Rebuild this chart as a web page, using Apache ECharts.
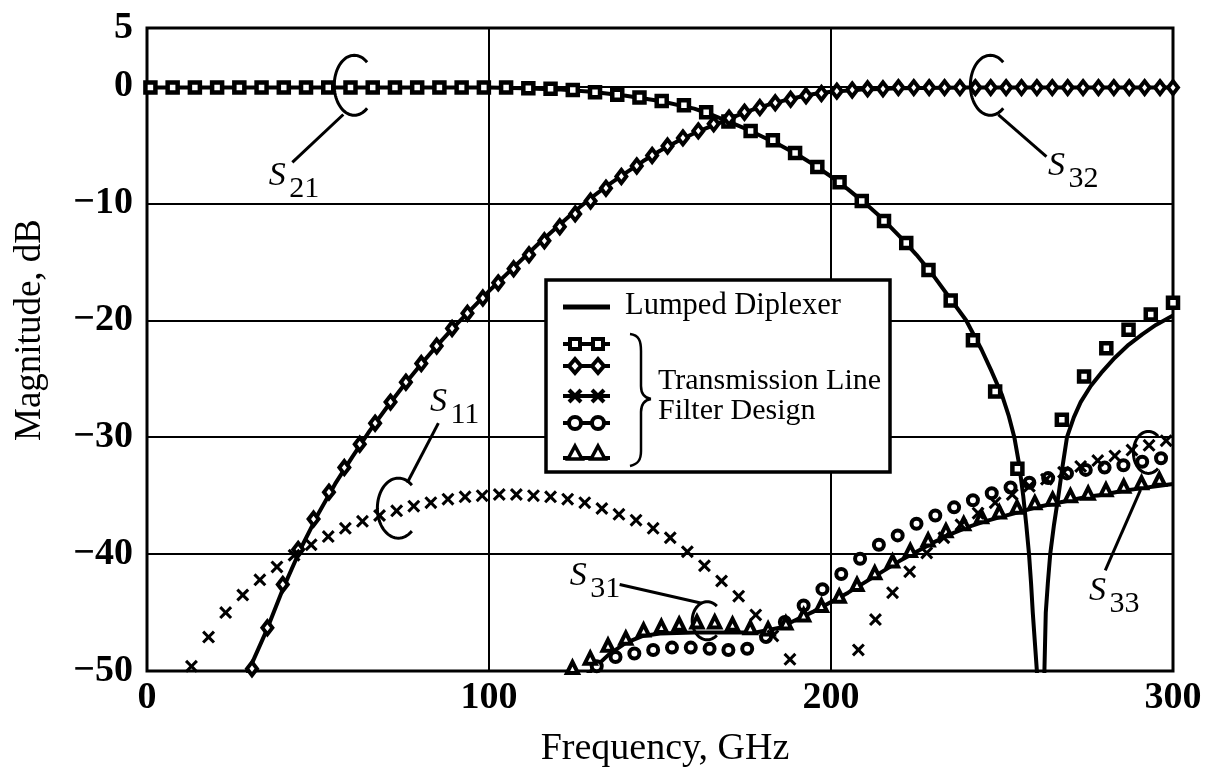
<!DOCTYPE html>
<html>
<head>
<meta charset="utf-8">
<script src="https://cdn.jsdelivr.net/npm/echarts@6.0.0/dist/echarts.min.js"></script>
<style>
  html, body { margin: 0; padding: 0; background: #fff; }
  #chart { width: 1207px; height: 769px; }
</style>
</head>
<body>
<div id="chart"></div>
<script>
// Axis ranges and tick step
const xRange = [0, 300];
const yRange = [-50, 5];
const xStep = 100;
const yStep = 10;

// Lumped diplexer responses (solid lines), [GHz, dB]
const s21Lumped = [
  [0, -0.1], [50, -0.1], [100, -0.1], [110, -0.15], [120, -0.25], [130, -0.45], [140, -0.8],
  [150, -1.25], [160, -1.9], [165, -2.4], [170, -3.0], [175, -3.6], [180, -4.3], [185, -5.0],
  [190, -5.8], [195, -6.7], [200, -7.7], [205, -8.8], [210, -10.0], [215, -11.3], [220, -12.8],
  [225, -14.4], [230, -16.2], [235, -18.2], [239.5, -20.0], [244, -22.5], [247, -24.4],
  [250, -26.4], [252, -28.2], [253.6, -30], [255, -32.3], [256.2, -35], [257.1, -37.5],
  [257.9, -40], [258.5, -42.5], [259, -45], [259.6, -47.5], [260.2, -50], [261.3, -65],
  [262.4, -50], [262.8, -45], [263.4, -42.5], [264.1, -40], [265.2, -37.5], [266.5, -35],
  [267.7, -32.5], [269, -30], [271, -28.3], [273, -27.0], [276, -25.6], [279, -24.5],
  [283, -23.2], [287, -22.1], [291, -21.2], [295, -20.4], [300, -19.6]
];
const s32Lumped = [
  [26, -53], [30, -49.8], [35, -46.5], [40, -42.8], [45, -39.5], [50, -36.6], [55, -34.0],
  [60, -31.7], [65, -29.5], [70, -27.5], [75, -25.6], [80, -23.8], [85, -22.1], [90, -20.5],
  [95, -19.0], [100, -17.5], [105, -16.1], [110, -14.7], [115, -13.3], [120, -12.0],
  [125, -10.7], [130, -9.5], [135, -8.4], [140, -7.4], [145, -6.4], [150, -5.5], [155, -4.7],
  [160, -4.0], [165, -3.4], [170, -2.8], [175, -2.2], [180, -1.7], [185, -1.3], [190, -0.95],
  [195, -0.65], [200, -0.45], [210, -0.25], [220, -0.15], [240, -0.1], [300, -0.1]
];
const s31Lumped = [
  [128, -50.5], [135, -48.6], [140, -47.6], [145, -47.0], [150, -46.8], [160, -46.7],
  [170, -46.7], [178, -46.7], [185, -46.3], [190, -45.6], [195, -44.9], [200, -44.1],
  [205, -43.3], [210, -42.4], [215, -41.5], [220, -40.6], [225, -39.8], [230, -39.0],
  [235, -38.3], [240, -37.7], [245, -37.2], [250, -36.8], [255, -36.4], [260, -36.0],
  [265, -35.7], [270, -35.4], [275, -35.1], [280, -34.9], [285, -34.6], [290, -34.4],
  [295, -34.2], [300, -34.0]
];

// Transmission line filter design (markers), [GHz, dB]
const s21Squares = [
  [1, -0.1], [7.5, -0.1], [14, -0.1], [20.5, -0.1], [27, -0.1], [33.5, -0.1], [40, -0.1],
  [46.5, -0.1], [53, -0.1], [59.5, -0.1], [66, -0.1], [72.5, -0.1], [79, -0.1], [85.5, -0.1],
  [92, -0.1], [98.5, -0.1], [105, -0.1], [111.5, -0.15], [118, -0.2], [124.5, -0.3],
  [131, -0.5], [137.5, -0.7], [144, -0.95], [150.5, -1.25], [157, -1.6], [163.5, -2.2],
  [170, -3.0], [176.5, -3.8], [183, -4.6], [189.5, -5.7], [196, -6.9], [202.5, -8.2],
  [209, -9.8], [215.5, -11.5], [222, -13.4], [228.5, -15.7], [235, -18.3], [241.5, -21.7],
  [248, -26.1], [254.5, -32.7], [261, -58], [267.5, -28.5], [274, -24.8], [280.5, -22.4],
  [287, -20.8], [293.5, -19.5], [300, -18.5]
];
const s32Diamonds = [
  [26.2, -53.5], [30.7, -49.8], [35.2, -46.3], [39.7, -42.6], [44.2, -39.6], [48.7, -37.0],
  [53.2, -34.7], [57.7, -32.6], [62.2, -30.6], [66.7, -28.8], [71.2, -27.0], [75.7, -25.3],
  [80.2, -23.7], [84.7, -22.2], [89.2, -20.7], [93.7, -19.4], [98.2, -18.1], [102.7, -16.8],
  [107.2, -15.6], [111.7, -14.4], [116.2, -13.2], [120.7, -12.0], [125.2, -10.9], [129.7, -9.8],
  [134.2, -8.7], [138.7, -7.7], [143.2, -6.8], [147.7, -5.9], [152.2, -5.1], [156.7, -4.4],
  [161.2, -3.8], [165.7, -3.2], [170.2, -2.7], [174.7, -2.2], [179.2, -1.8], [183.7, -1.4],
  [188.2, -1.1], [192.7, -0.8], [197.2, -0.6], [201.7, -0.4], [206.2, -0.3], [210.7, -0.2],
  [215.2, -0.2], [219.7, -0.1], [224.2, -0.1], [228.7, -0.1], [233.2, -0.1], [237.7, -0.1],
  [242.2, -0.1], [246.7, -0.1], [251.2, -0.1], [255.7, -0.1], [260.2, -0.1], [264.7, -0.1],
  [269.2, -0.1], [273.7, -0.1], [278.2, -0.1], [282.7, -0.1], [287.2, -0.1], [291.7, -0.1],
  [296.2, -0.1], [300, -0.1]
];
const s11Crosses = [
  [13, -49.6], [18, -47.1], [23, -45.0], [28, -43.5], [33, -42.2], [38, -41.1], [43, -40.1],
  [48, -39.2], [53, -38.5], [58, -37.8], [63, -37.2], [68, -36.7], [73, -36.3], [78, -35.9],
  [83, -35.6], [88, -35.3], [93, -35.1], [98, -35.0], [103, -34.9], [108, -34.9], [113, -35.0],
  [118, -35.1], [123, -35.3], [128, -35.6], [133, -36.1], [138, -36.6], [143, -37.1],
  [148, -37.8], [153, -38.6], [158, -39.8], [163, -41.0], [168, -42.3], [173, -43.6],
  [178, -45.2], [183, -47.0], [188, -49.0], [193, -53], [198, -58], [203, -54], [208, -48.2],
  [213, -45.6], [218, -43.3], [223, -41.5], [228, -39.9], [233, -38.6], [238, -37.5],
  [243, -36.5], [248, -35.6], [253, -34.9], [258, -34.2], [263, -33.6], [268, -33.0],
  [273, -32.5], [278, -32.0], [283, -31.6], [288, -31.1], [293, -30.7], [298, -30.3]
];
const s33Circles = [
  [131.5, -49.6], [137, -48.8], [142.5, -48.5], [148, -48.2], [153.5, -48.0], [159, -48.0],
  [164.5, -48.1], [170, -48.2], [175.5, -48.1], [181, -47.1], [186.5, -45.8], [192, -44.4],
  [197.5, -43.0], [203, -41.7], [208.5, -40.4], [214, -39.2], [219.5, -38.4], [225, -37.4],
  [230.5, -36.7], [236, -36.0], [241.5, -35.4], [247, -34.8], [252.5, -34.3], [258, -33.9],
  [263.5, -33.5], [269, -33.1], [274.5, -32.8], [280, -32.6], [285.5, -32.4], [291, -32.1],
  [296.5, -31.8]
];
const s31Triangles = [
  [124.4, -49.7], [129.6, -48.9], [134.8, -47.8], [140, -47.2], [145.2, -46.5], [150.4, -46.2],
  [155.6, -46.0], [160.8, -45.8], [166, -45.8], [171.2, -46.0], [176.4, -46.3], [181.6, -46.4],
  [186.8, -45.9], [192, -45.2], [197.2, -44.4], [202.4, -43.6], [207.6, -42.6], [212.8, -41.6],
  [218, -40.6], [223.2, -39.7], [228.4, -38.8], [233.6, -38.0], [238.8, -37.4], [244, -36.8],
  [249.2, -36.4], [254.4, -36.0], [259.6, -35.6], [264.8, -35.3], [270, -35.0], [275.2, -34.8],
  [280.4, -34.5], [285.6, -34.2], [290.8, -33.9], [296, -33.6]
];

// Curve call-outs: subscript, ellipse centre, leader line ends, label position (data units)
const callouts = [
  { sub: '21', ring: [60.6, 0.1], lead: [[57.4, -2.4], [42.5, -6.5]], label: [38.1, -7.7] },
  { sub: '32', ring: [246.6, 0.1], lead: [[248.9, -2.4], [263, -6.0]], label: [265.9, -6.85] },
  { sub: '11', ring: [73.5, -36.07], lead: [[76.1, -33.9], [85.2, -28.8]], label: [85.2, -27.0] },
  { sub: '31', ring: [163.8, -45.7], lead: [[162.2, -44.2], [138.2, -42.6]], label: [126.1, -41.9] },
  { sub: '33', ring: [292.8, -31.3], lead: [[290.5, -34.5], [280.2, -41.4]], label: [277.9, -43.2] }
];
const ringSizes = { '21': [20, 30], '32': [20, 30], '11': [21, 30], '31': [15, 19], '33': [15, 21] };

const legendLumped = 'Lumped Diplexer';
const legendTL = ['Transmission Line', 'Filter Design'];

const SERIF = '"Liberation Serif", "DejaVu Serif", serif';
const crossPath = 'path://M0,2 L2,0 L6,4 L10,0 L12,2 L8,6 L12,10 L10,12 L6,8 L2,12 L0,10 L4,6 Z';

function fmtTick(v) {
  return v < 0 ? '\u2212' + Math.abs(v) : String(v);
}

const chart = echarts.init(document.getElementById('chart'), null, { renderer: 'canvas' });

function lineSeries(data) {
  return {
    type: 'line', data: data, showSymbol: false, symbol: 'none', clip: true, z: 3,
    lineStyle: { color: '#000', width: 4 }, animation: false, silent: true
  };
}
function markerSeries(data, symbol, size, filled, bw) {
  return {
    type: 'scatter', data: data, symbol: symbol, symbolSize: size, clip: true, z: 4,
    itemStyle: filled ? { color: '#000', borderWidth: 0, opacity: 1 }
                      : { color: '#fff', borderColor: '#000', borderWidth: bw || 4.5, opacity: 1 },
    animation: false, silent: true
  };
}

chart.setOption({
  backgroundColor: '#fff',
  animation: false,
  grid: { left: 147, right: 34, top: 28, bottom: 98, show: true, borderColor: '#000', borderWidth: 3, backgroundColor: '#fff' },
  xAxis: {
    type: 'value', min: xRange[0], max: xRange[1], interval: xStep,
    axisLine: { show: false }, axisTick: { show: false },
    splitLine: { show: true, lineStyle: { color: '#000', width: 2 } },
    axisLabel: { color: '#000', fontFamily: SERIF, fontWeight: 'bold', fontSize: 38, margin: 8 }
  },
  yAxis: {
    type: 'value', min: yRange[0], max: yRange[1], interval: yStep,
    axisLine: { show: false }, axisTick: { show: false },
    splitLine: { show: true, lineStyle: { color: '#000', width: 2 } },
    axisLabel: { color: '#000', fontFamily: SERIF, fontWeight: 'bold', fontSize: 38, margin: 14, formatter: fmtTick }
  },
  series: [
    lineSeries(s21Lumped),
    lineSeries(s32Lumped),
    lineSeries(s31Lumped),
    markerSeries(s21Squares, 'rect', 10, false),
    markerSeries(s32Diamonds, 'diamond', [10, 13], false, 4),
    markerSeries(s33Circles, 'circle', 10, false, 4),
    markerSeries(s31Triangles, 'triangle', 11, false, 4),
    markerSeries(s11Crosses, crossPath, 13, true)
  ]
});

// Decorations: call-outs, legend box and axis titles
const g = [];
const px = p => chart.convertToPixel({ gridIndex: 0 }, p);

callouts.forEach(c => {
  const ctr = px(c.ring);
  const rs = ringSizes[c.sub];
  const pts = [];
  for (let a = 50; a <= 310; a += 5) {
    const t = a * Math.PI / 180;
    pts.push([ctr[0] + rs[0] * Math.cos(t), ctr[1] - rs[1] * Math.sin(t)]);
  }
  g.push({ type: 'polyline', shape: { points: pts }, style: { stroke: '#000', lineWidth: 3, fill: null }, z: 20 });
  const a = px(c.lead[0]), b = px(c.lead[1]);
  g.push({ type: 'line', shape: { x1: a[0], y1: a[1], x2: b[0], y2: b[1] }, style: { stroke: '#000', lineWidth: 3 }, z: 20 });
  const l = px(c.label);
  g.push({ type: 'text', x: l[0], y: l[1], z: 20,
    style: { text: 'S', fontFamily: SERIF, fontStyle: 'italic', fontSize: 34, fill: '#000', align: 'center', verticalAlign: 'middle' } });
  g.push({ type: 'text', x: l[0] + 12, y: l[1] + 13, z: 20,
    style: { text: c.sub, fontFamily: SERIF, fontSize: 30, fill: '#000', align: 'left', verticalAlign: 'middle' } });
});

// legend panel
const LB = { x: 546, y: 280, w: 344, h: 192 };
g.push({ type: 'rect', shape: { x: LB.x, y: LB.y, width: LB.w, height: LB.h }, style: { fill: '#fff', stroke: '#000', lineWidth: 3.5 }, z: 30 });
g.push({ type: 'line', shape: { x1: 563, y1: 307, x2: 610, y2: 307 }, style: { stroke: '#000', lineWidth: 5 }, z: 31 });
g.push({ type: 'text', x: 625, y: 306, z: 31, style: { text: legendLumped, fontFamily: SERIF, fontSize: 30.5, fill: '#000', align: 'left', verticalAlign: 'middle' } });

function icon(kind, x, y) {
  const st = { fill: '#fff', stroke: '#000', lineWidth: 4 };
  if (kind === 'rect') return { type: 'rect', shape: { x: x - 5, y: y - 5, width: 10, height: 10 }, style: st, z: 32 };
  if (kind === 'diamond') return { type: 'polygon', shape: { points: [[x, y - 7], [x + 6, y], [x, y + 7], [x - 6, y]] }, style: st, z: 32 };
  if (kind === 'circle') return { type: 'circle', shape: { cx: x, cy: y, r: 6 }, style: st, z: 32 };
  if (kind === 'triangle') return { type: 'polygon', shape: { points: [[x, y - 7], [x + 7, y + 6], [x - 7, y + 6]] }, style: Object.assign({}, st, { lineWidth: 3.5 }), z: 32 };
  return { type: 'group', children: [
    { type: 'line', shape: { x1: x - 6, y1: y - 6, x2: x + 6, y2: y + 6 }, style: { stroke: '#000', lineWidth: 4 }, z: 32 },
    { type: 'line', shape: { x1: x + 6, y1: y - 6, x2: x - 6, y2: y + 6 }, style: { stroke: '#000', lineWidth: 4 }, z: 32 }
  ] };
}
const iconRows = [['rect', 344, 344], ['diamond', 366, 366], ['cross', 396, 396], ['circle', 423, 423], ['triangle', 453, 458]];
iconRows.forEach(r => {
  g.push({ type: 'line', shape: { x1: 563, y1: r[2], x2: 610, y2: r[2] }, style: { stroke: '#000', lineWidth: 4 }, z: 31 });
  g.push(icon(r[0], 575, r[1]));
  g.push(icon(r[0], 598, r[1]));
});

// curly brace grouping the marker rows
const braceStyle = { stroke: '#000', lineWidth: 2.5, fill: null };
[
  { x1: 630, y1: 334, cpx1: 639, cpy1: 335, cpx2: 641, cpy2: 341, x2: 641, y2: 351 },
  { x1: 641, y1: 386, cpx1: 641, cpy1: 394, cpx2: 645, cpy2: 398, x2: 651, y2: 399 },
  { x1: 651, y1: 399, cpx1: 645, cpy1: 400, cpx2: 641, cpy2: 404, x2: 641, y2: 412 },
  { x1: 641, y1: 451, cpx1: 641, cpy1: 460, cpx2: 638, cpy2: 464, x2: 630, y2: 466 }
].forEach(s => g.push({ type: 'bezierCurve', shape: s, style: braceStyle, z: 31 }));
g.push({ type: 'line', shape: { x1: 641, y1: 351, x2: 641, y2: 386 }, style: braceStyle, z: 31 });
g.push({ type: 'line', shape: { x1: 641, y1: 412, x2: 641, y2: 451 }, style: braceStyle, z: 31 });

g.push({ type: 'text', x: 658, y: 381, z: 31, style: { text: legendTL[0], fontFamily: SERIF, fontSize: 30, fill: '#000', align: 'left', verticalAlign: 'middle' } });
g.push({ type: 'text', x: 658, y: 411, z: 31, style: { text: legendTL[1], fontFamily: SERIF, fontSize: 30, fill: '#000', align: 'left', verticalAlign: 'middle' } });

// axis titles
g.push({ type: 'text', x: 665, y: 749, z: 10, style: { text: 'Frequency, GHz', fontFamily: SERIF, fontSize: 38, fill: '#000', align: 'center', verticalAlign: 'middle' } });
g.push({ type: 'text', x: 30, y: 330, rotation: Math.PI / 2, z: 10, style: { text: 'Magnitude, dB', fontFamily: SERIF, fontSize: 37, fill: '#000', align: 'center', verticalAlign: 'middle' } });

chart.setOption({ graphic: { elements: g } });
</script>
</body>
</html>
